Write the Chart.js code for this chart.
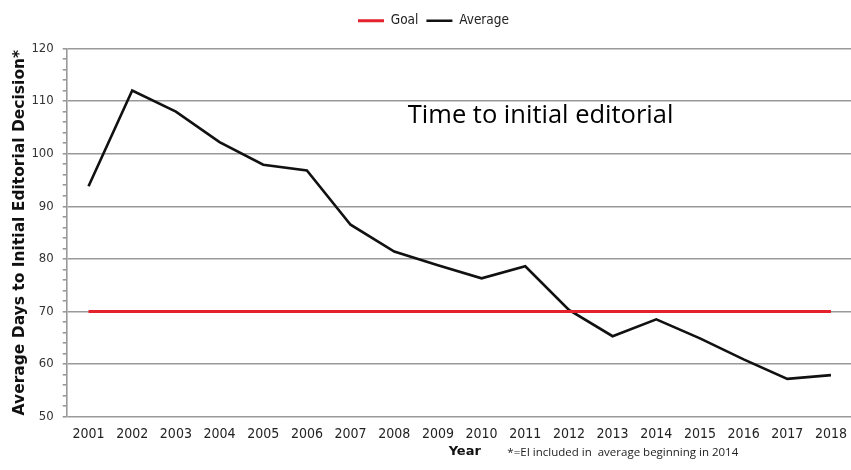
<!DOCTYPE html>
<html><head><meta charset="utf-8">
<script src="https://cdn.jsdelivr.net/npm/chart.js@4/dist/chart.umd.min.js"></script>
<style>html,body{margin:0;padding:0;background:#fff;overflow:hidden;width:851px;height:470px}#wrap{width:856px;height:470px;position:relative}</style>
</head><body><div id="wrap"><canvas id="c" width="856" height="470"></canvas></div>
<script>
const years = ["2001","2002","2003","2004","2005","2006","2007","2008","2009","2010","2011","2012","2013","2014","2015","2016","2017","2018"];
const goal = [70,70,70,70,70,70,70,70,70,70,70,70,70,70,70,70,70,70];
const average = [93.8,112,108,102.2,97.9,96.8,86.5,81.4,78.8,76.3,78.6,70.3,65.3,68.5,64.9,60.9,57.2,57.9];
const yTicksMajor = [50,60,70,80,90,100,110,120];
const xTitle = "Year";
const annotationText = "Time to initial editorial";
const footnoteText = "*=EI included in  average beginning in 2014";

const legendGap = {
  id: 'legendGap',
  beforeInit(chart) {
    const lg = chart.legend;
    if (!lg) return;
    const fit = lg.fit;
    lg.fit = function () { fit.call(this); this.height += 11; };
  }
};

const textPlugin = {
  id: 'texts',
  afterDraw(chart) {
    const ctx = chart.ctx, x = chart.scales.x, y = chart.scales.y;
    ctx.save();
    ctx.fillStyle = '#000';
    ctx.font = '25.5px "Open Sans"';
    ctx.textBaseline = 'alphabetic';
    ctx.textAlign = 'left';
    ctx.fillText(annotationText, x.getPixelForValue(7.31), y.getPixelForValue(105.9));
    ctx.font = 'bold 13px "DejaVu Sans"';
    ctx.fillStyle = '#111';
    ctx.textAlign = 'center';
    ctx.fillText(xTitle, x.getPixelForValue(8.5) + 5, 455);
    ctx.textAlign = 'left';
    ctx.font = '11.5px "Open Sans"';
    ctx.fillStyle = '#222';
    ctx.fillText(footnoteText, x.getPixelForValue(9.59), 456);
    ctx.restore();
  }
};

new Chart(document.getElementById('c'), {
  type: 'line',
  data: {
    labels: years,
    datasets: [
      {label: 'Goal', data: goal, borderColor: '#e4222b', backgroundColor: '#e4222b', borderWidth: 3, pointRadius: 0, tension: 0},
      {label: 'Average', data: average, borderColor: '#111', backgroundColor: '#111', borderWidth: 2.6, pointRadius: 0, tension: 0}
    ]
  },
  options: {
    responsive: false,
    animation: false,
    devicePixelRatio: 1,
    layout: {padding: {left: 11, right: 0, top: 6, bottom: 0}},
    plugins: {
      legend: {
        display: true, position: 'top',
        labels: {usePointStyle: true, pointStyle: 'line', pointStyleWidth: 26, boxHeight: 12, padding: 8, color: '#222',
          font: {family: '"DejaVu Sans Condensed", "DejaVu Sans"', size: 13.5}}
      },
      tooltip: {enabled: false}
    },
    scales: {
      x: {
        offset: true,
        afterFit: (s) => { s.height = 53.3; },
        grid: {display: false, drawTicks: false},
        border: {display: false},
        ticks: {color: '#222', font: {family: '"DejaVu Sans Condensed", "DejaVu Sans"', size: 14}, padding: 9, maxRotation: 0, autoSkip: false}
      },
      y: {
        min: 50, max: 120,
        afterFit: (s) => { s.width = 55.7; },
        ticks: {stepSize: 2, autoSkip: false, color: '#333', font: {family: '"DejaVu Sans Condensed", "DejaVu Sans"', size: 13}, padding: 9,
          callback: (v) => yTicksMajor.includes(v) ? String(v) : ''},
        grid: {
          color: (c) => yTicksMajor.includes(c.tick.value) ? '#999' : 'rgba(0,0,0,0)',
          tickColor: '#999', lineWidth: 1.6, tickLength: 4
        },
        border: {display: true, color: '#999', width: 1.6},
        title: {display: true, text: 'Average Days to Initial Editorial Decision*', color: '#111',
          font: {family: '"DejaVu Sans"', size: 15.5, weight: 'bold'}, padding: {top: 0, bottom: 2}}
      }
    }
  },
  plugins: [legendGap, textPlugin]
});
</script></body></html>
